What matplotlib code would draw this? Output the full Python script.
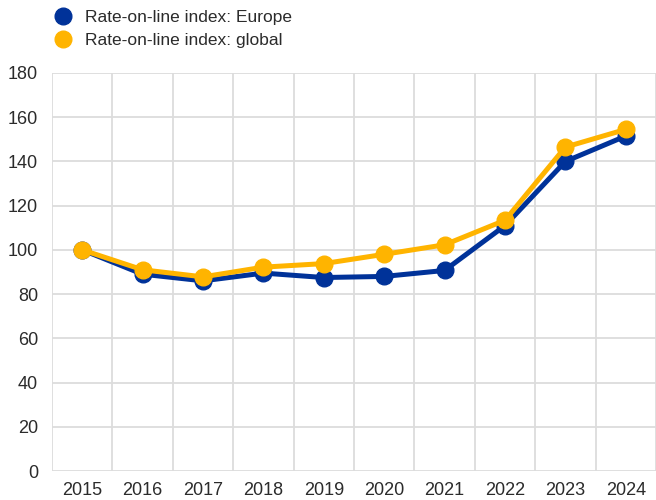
import numpy as np
import matplotlib
matplotlib.use("Agg")
import matplotlib.pyplot as plt
from matplotlib.lines import Line2D

years = ["2015", "2016", "2017", "2018", "2019", "2020", "2021", "2022", "2023", "2024"]
europe = [100, 89, 86, 89.5, 87.5, 88, 90.7, 111, 140, 151.5]
world = [100, 91, 87.8, 92.2, 93.8, 98, 102.3, 113.4, 146.5, 154.5]
labels = ["Rate-on-line index: Europe", "Rate-on-line index: global"]

blue = "#003299"
yellow = "#FFB400"

plt.rcParams['font.family'] = ['Liberation Sans', 'DejaVu Sans']

fig = plt.figure(figsize=(6.56, 5.0), dpi=100)
ax = fig.add_axes([52 / 656, 1 - 471 / 500, 1 - 52 / 656, (471 - 73) / 500])

x = np.arange(len(years))
ax.plot(x, europe, color=blue, lw=3.6, marker="o", ms=12, zorder=3)
ax.plot(x, world, color=yellow, lw=3.6, marker="o", ms=12, zorder=4)

ax.set_xlim(-0.5, 9.45)
ax.set_ylim(0, 180)
ax.set_yticks(range(0, 181, 20))
ax.set_xticks(x)
ax.set_xticklabels(years)
ax.set_xticks(np.arange(-0.5, 10, 1), minor=True)

ax.grid(False)
ax.grid(True, which="minor", axis="x", color="#dcdcdc", lw=1.3)
ax.grid(True, which="major", axis="y", color="#dcdcdc", lw=1.3)
ax.set_axisbelow(True)
for s in ax.spines.values():
    s.set_visible(False)
ax.tick_params(which="both", length=0, labelsize=13, colors="#2b2b2b")
ax.tick_params(axis="y", pad=10)
ax.tick_params(axis="x", pad=8)

handles = [Line2D([], [], ls="", marker="o", ms=12, color=c) for c in (blue, yellow)]
fig.legend(handles, labels, loc="upper left", bbox_to_anchor=(0.045, 1.012),
           frameon=False, fontsize=12.5, handletextpad=0.3, labelspacing=0.45,
           labelcolor="#2b2b2b")

fig.savefig("out.png", dpi=100)
